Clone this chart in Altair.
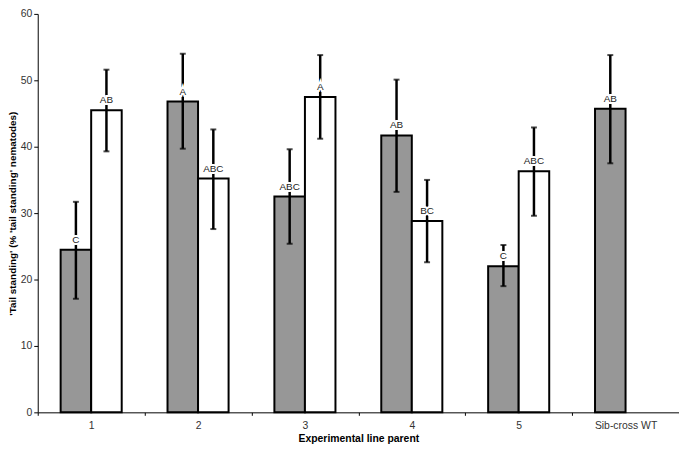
import altair as alt
import pandas as pd

categories = ["1", "2", "3", "4", "5", "Sib-cross WT"]
groups = ["gray", "white"]
cat_col = ["1", "1", "2", "2", "3", "3", "4", "4", "5", "5", "Sib-cross WT"]
grp_col = ["gray", "white", "gray", "white", "gray", "white", "gray", "white", "gray", "white", "gray"]
means = [24.5, 45.5, 46.8, 35.2, 32.5, 47.5, 41.7, 28.8, 22.0, 36.3, 45.7]
err_lo = [17.1, 39.3, 39.7, 27.6, 25.4, 41.2, 33.2, 22.6, 19.0, 29.6, 37.5]
err_hi = [31.7, 51.6, 54.0, 42.6, 39.6, 53.8, 50.1, 35.0, 25.2, 42.9, 53.8]
letters = ["C", "AB", "A", "ABC", "ABC", "A", "AB", "BC", "C", "ABC", "AB"]
y_ticks = [0, 10, 20, 30, 40, 50, 60]

df = pd.DataFrame({
    "cat": cat_col, "grp": grp_col, "mean": means,
    "lo": err_lo, "hi": err_hi, "letter": letters,
})

FONT = "Liberation Sans"

x_enc = alt.X(
    "cat:N", sort=categories,
    scale=alt.Scale(domain=categories, paddingInner=0, paddingOuter=0),
    axis=alt.Axis(
        title="Experimental line parent", titleFont=FONT, titleFontSize=10.5,
        titleFontWeight="bold", titleColor="black", titlePadding=3,
        labelAngle=0, labelFont=FONT, labelFontSize=10.5, labelColor="#333333",
        labelPadding=5, tickBand="extent", tickSize=3, tickColor="black",
        domainColor="black", domainWidth=1,
    ),
)
xo_enc = alt.XOffset(
    "grp:N", scale=alt.Scale(domain=groups, paddingInner=0, paddingOuter=0.75)
)
y_scale = alt.Scale(domain=[0, 60], nice=False)
y_axis = alt.Axis(
    values=y_ticks, grid=False,
    title="'Tail standing' (% 'tail standing' nematodes)",
    titleFont=FONT, titleFontSize=10, titleFontWeight="bold", titleColor="black",
    titleX=-25, titleBaseline="middle",
    labelFont=FONT, labelFontSize=10.5, labelColor="#333333", labelPadding=2,
    tickSize=4, tickColor="black", domainColor="black", domainWidth=1,
)

base = alt.Chart(df)

bars = base.mark_bar(stroke="black", strokeWidth=2).encode(
    x=x_enc, xOffset=xo_enc,
    y=alt.Y("mean:Q", scale=y_scale, axis=y_axis),
    color=alt.Color("grp:N", scale=alt.Scale(domain=groups, range=["#979797", "#ffffff"]), legend=None),
)

err = base.mark_rule(color="black", strokeWidth=2.5).encode(
    x=x_enc, xOffset=xo_enc,
    y=alt.Y("lo:Q", scale=y_scale), y2="hi:Q",
)

cap_hi = base.mark_tick(color="black", size=6, thickness=2).encode(
    x=x_enc, xOffset=xo_enc, y=alt.Y("hi:Q", scale=y_scale),
)
cap_lo = base.mark_tick(color="black", size=6, thickness=2).encode(
    x=x_enc, xOffset=xo_enc, y=alt.Y("lo:Q", scale=y_scale),
)

halo = base.mark_text(
    font=FONT, fontSize=10, baseline="bottom", dy=-5,
    fill="white", stroke="white", strokeWidth=4,
).encode(
    x=x_enc, xOffset=xo_enc, y=alt.Y("mean:Q", scale=y_scale), text="letter:N",
)
labels = base.mark_text(
    font=FONT, fontSize=10, baseline="bottom", dy=-5, color="#222222",
).encode(
    x=x_enc, xOffset=xo_enc, y=alt.Y("mean:Q", scale=y_scale), text="letter:N",
)

chart = alt.layer(bars, err, cap_hi, cap_lo, halo, labels).properties(
    width=647, height=402,
    background="white",
    autosize=alt.AutoSizeParams(type="none"),
    padding={"left": 30, "top": 4, "right": 0, "bottom": 30},
).configure_view(stroke=None)

chart.save("out.html", embed_options={"renderer": "svg", "actions": False})
